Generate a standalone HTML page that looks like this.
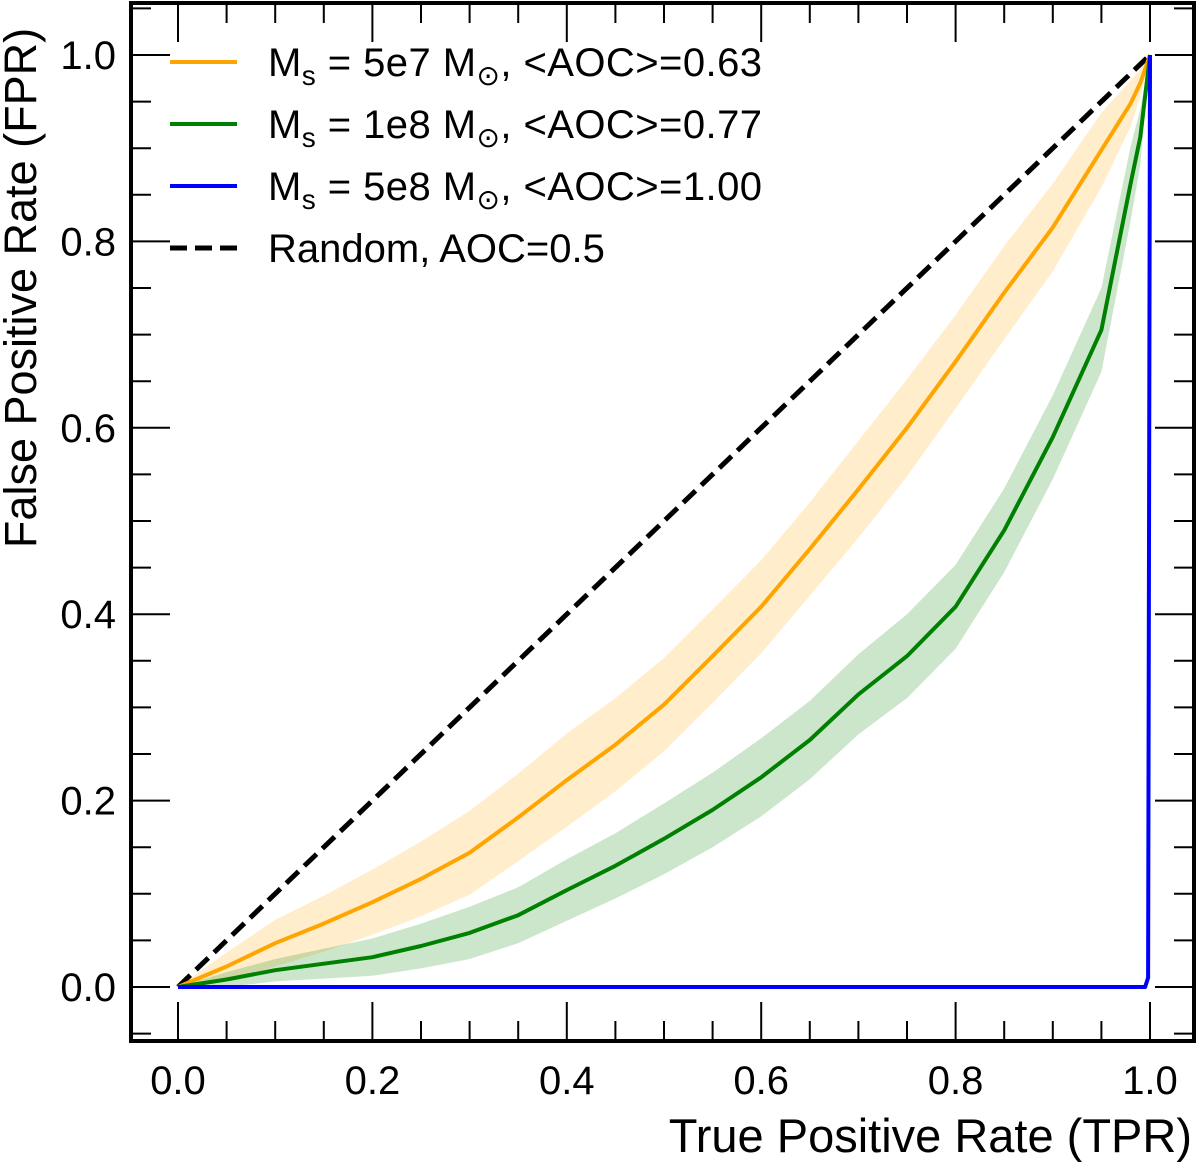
<!DOCTYPE html>
<html><head><meta charset="utf-8"><style>
body{margin:0;background:#fff}
svg text{font-family:"Liberation Sans","DejaVu Sans",sans-serif;fill:#000}
</style></head><body>
<svg id="chart" width="1200" height="1163" viewBox="0 0 1200 1163" xmlns="http://www.w3.org/2000/svg">
<g id="bands"></g><g id="lines"></g><g id="ticks"></g>
<rect x="131" y="3" width="1063" height="1038" fill="none" stroke="#000" stroke-width="4"/>
<text transform="translate(36,288) rotate(-90)" text-anchor="middle" font-size="45">False Positive Rate (FPR)</text>
<text x="1192" y="1152" text-anchor="end" font-size="47">True Positive Rate (TPR)</text>
<g font-size="40">
<line x1="170" y1="62" x2="237" y2="62" stroke="#ffa500" stroke-width="4"/>
<text x="268" y="76" textLength="494">M<tspan font-size="28" dy="9">s</tspan><tspan dy="-9"> = 5e7 M</tspan><tspan font-size="28" dy="9">⊙</tspan><tspan dy="-9">, &lt;AOC&gt;=0.63</tspan></text>
<line x1="170" y1="124" x2="237" y2="124" stroke="#008000" stroke-width="4"/>
<text x="268" y="138" textLength="494">M<tspan font-size="28" dy="9">s</tspan><tspan dy="-9"> = 1e8 M</tspan><tspan font-size="28" dy="9">⊙</tspan><tspan dy="-9">, &lt;AOC&gt;=0.77</tspan></text>
<line x1="170" y1="186" x2="237" y2="186" stroke="#0000ff" stroke-width="4"/>
<text x="268" y="200" textLength="494">M<tspan font-size="28" dy="9">s</tspan><tspan dy="-9"> = 5e8 M</tspan><tspan font-size="28" dy="9">⊙</tspan><tspan dy="-9">, &lt;AOC&gt;=1.00</tspan></text>
<line x1="170" y1="248" x2="237" y2="248" stroke="#000" stroke-width="5" stroke-dasharray="17,8"/>
<text x="268" y="262">Random, AOC=0.5</text>
</g>
</svg>
<script>
const xs = [0,0.05,0.1,0.15,0.2,0.25,0.3,0.35,0.4,0.45,0.5,0.55,0.6,0.65,0.7,0.75,0.8,0.85,0.9,0.95,0.98,0.99,1];
const orange = [0,0.022,0.047,0.068,0.091,0.116,0.144,0.182,0.222,0.26,0.303,0.355,0.408,0.47,0.534,0.6,0.671,0.745,0.815,0.898,0.948,0.97,1];
const orangeSd = [0,0.015,0.025,0.03,0.035,0.04,0.045,0.047,0.05,0.05,0.05,0.05,0.05,0.05,0.052,0.052,0.05,0.05,0.047,0.04,0.025,0.015,0];
const green = [0,0.008,0.018,0.025,0.032,0.044,0.058,0.077,0.104,0.13,0.159,0.19,0.225,0.265,0.314,0.355,0.408,0.49,0.59,0.705,0.862,0.912,1];
const greenSd = [0,0.008,0.012,0.016,0.02,0.024,0.028,0.03,0.033,0.035,0.038,0.04,0.042,0.042,0.043,0.045,0.045,0.045,0.045,0.045,0.04,0.03,0];
const blueX = [0,0.995,0.998,1];
const blueY = [0,0,0.01,1];
const randX = [0,1];
const randY = [0,1];
const tickLabels = ["0.0","0.2","0.4","0.6","0.8","1.0"];
const tickVals = [0,0.2,0.4,0.6,0.8,1.0];

const NS="http://www.w3.org/2000/svg";
const X=v=>178+v*972, Y=v=>987-v*932;
function mk(tag,parent){const e=document.createElementNS(NS,tag);document.getElementById(parent).appendChild(e);return e;}
function pts(xa,ya){return xa.map((x,i)=>X(x).toFixed(1)+","+Y(ya[i]).toFixed(1)).join(" ");}
function band(mean,sd,color,name){
  const up=mean.map((m,i)=>Math.min(1.0,m+sd[i])), lo=mean.map((m,i)=>Math.max(0,m-sd[i]));
  const p=mk("polygon","bands");
  p.setAttribute("points",pts(xs,up)+" "+pts(xs.slice().reverse(),lo.slice().reverse()));
  p.setAttribute("fill",color);p.setAttribute("fill-opacity","0.2");
  
  
}
band(orange,orangeSd,"#ffa500","band-5e7");
band(green,greenSd,"#008000","band-1e8");
function line(xa,ya,color,name,dash,w){
  const p=mk("polyline","lines");
  p.setAttribute("points",pts(xa,ya));p.setAttribute("fill","none");
  p.setAttribute("stroke",color);p.setAttribute("stroke-width",w||"4");p.setAttribute("stroke-linejoin","round");
  if(dash)p.setAttribute("stroke-dasharray",dash);
  
  
}
line(randX,randY,"#000","line-random","17,8","5");
line(xs,orange,"#ffa500","line-5e7");
line(xs,green,"#008000","line-1e8");
line(blueX,blueY,"#0000ff","line-5e8");
for(let k=-1;k<=21;k++){
  const v=k*0.05, major=(k%4===0);
  const L=major?37:18;
  const px=X(v);
  if(px>133&&px<1192){
    [[1039,1039-L],[5,5+L]].forEach(([a,b])=>{const t=mk("line","ticks");
      t.setAttribute("x1",px);t.setAttribute("x2",px);t.setAttribute("y1",a);t.setAttribute("y2",b);
      t.setAttribute("stroke","#000");t.setAttribute("stroke-width","2");
      
      });
  }
  const py=Y(v);
  if(py>5&&py<1039){
    [[133,133+L],[1192,1192-L]].forEach(([a,b])=>{const t=mk("line","ticks");
      t.setAttribute("y1",py);t.setAttribute("y2",py);t.setAttribute("x1",a);t.setAttribute("x2",b);
      t.setAttribute("stroke","#000");t.setAttribute("stroke-width","2");
      
      });
  }
}
tickVals.forEach((v,i)=>{
  const t=mk("text","ticks");t.textContent=tickLabels[i];
  t.setAttribute("x",X(v));t.setAttribute("y",1094);t.setAttribute("text-anchor","middle");t.setAttribute("font-size","40");
  
  
  const u=mk("text","ticks");u.textContent=tickLabels[i];
  u.setAttribute("x",116);u.setAttribute("y",Y(v)+14);u.setAttribute("text-anchor","end");u.setAttribute("font-size","40");
  
  
});
</script>
</body></html>
